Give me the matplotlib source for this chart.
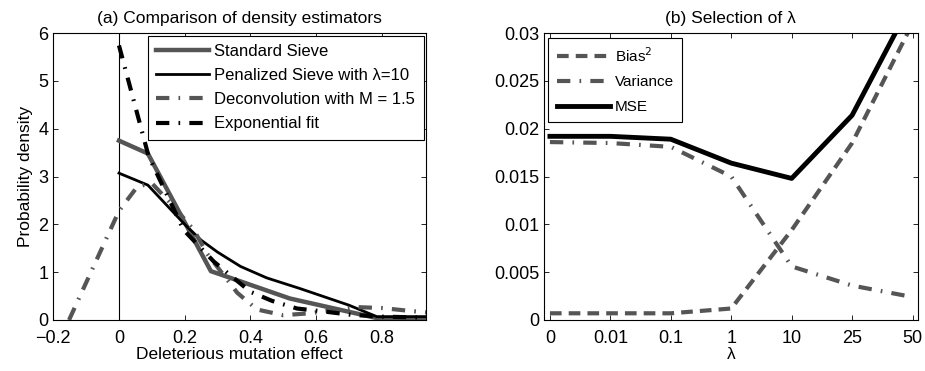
import numpy as np
import matplotlib.pyplot as plt

plt.rcParams['font.family'] = ['Liberation Sans', 'DejaVu Sans']
plt.rcParams['font.size'] = 12.5

GRAY = '#555555'

# (a) density estimators
sieve_x = [0, 0.088, 0.28, 0.31, 0.52, 0.785, 0.935]
sieve_y = [3.75, 3.48, 1.02, 0.95, 0.45, 0.04, 0.04]

pen_x = [0, 0.088, 0.2, 0.25, 0.3, 0.37, 0.45, 0.55, 0.7, 0.785, 0.935]
pen_y = [3.07, 2.82, 2.0, 1.67, 1.42, 1.12, 0.88, 0.66, 0.31, 0.07, 0.07]

dec_x = [-0.152, 0, 0.056, 0.1, 0.167, 0.228, 0.268, 0.36, 0.42, 0.5, 0.58, 0.72, 0.8, 0.886, 0.935]
dec_y = [0, 2.28, 2.79, 2.86, 2.37, 1.88, 1.39, 0.57, 0.22, 0.1, 0.14, 0.27, 0.25, 0.19, 0.16]

exp_x = [0, 0.09, 0.197, 0.289, 0.4, 0.466, 0.542, 0.633, 0.705, 0.8, 0.935]
exp_y = [5.74, 3.43, 1.88, 1.22, 0.59, 0.4, 0.24, 0.17, 0.11, 0.07, 0.05]

# (b) selection of lambda
lam_labels = ['0', '0.01', '0.1', '1', '10', '25', '50']
bias2 = [0.0007, 0.0007, 0.0007, 0.0012, 0.0094, 0.0185, 0.031]
variance = [0.0186, 0.0185, 0.0181, 0.0150, 0.0056, 0.0036, 0.0024]
mse = [0.0192, 0.0192, 0.0189, 0.0164, 0.0148, 0.0214, 0.0334]

dashdot = (0, (3.2, 2.2, 0.4, 2.2))
dashed = (0, (2.8, 1.7))

fig = plt.figure(figsize=(9.25, 3.71), dpi=100)
ax1 = fig.add_axes([0.0576, 0.1375, 0.403, 0.7735])
ax2 = fig.add_axes([0.588, 0.1375, 0.4044, 0.7735])

ax1.axvline(0, color='black', lw=0.8)
ax1.plot(sieve_x, sieve_y, color=GRAY, lw=3.2, label='Standard Sieve')
ax1.plot(pen_x, pen_y, color='black', lw=2, label='Penalized Sieve with λ=10')
ax1.plot(dec_x, dec_y, color=GRAY, lw=3, linestyle=dashdot, label='Deconvolution with M = 1.5')
ax1.plot(exp_x, exp_y, color='black', lw=3, linestyle=dashdot, label='Exponential fit')
ax1.set_xlim(-0.2, 0.935)
ax1.set_ylim(0, 6)
ax1.set_xticks([-0.2, 0, 0.2, 0.4, 0.6, 0.8])
ax1.set_xticklabels(['\u22120.2', '0', '0.2', '0.4', '0.6', '0.8'])
ax1.set_yticks(range(7))
ax1.set_xlabel('Deleterious mutation effect', labelpad=0)
ax1.set_ylabel('Probability density', labelpad=4)
ax1.set_title('(a) Comparison of density estimators', fontsize=12.5, pad=7)
leg1 = ax1.legend(loc='upper right', handlelength=3.2, fancybox=False, edgecolor='black',
                  framealpha=1, borderaxespad=0.15, labelspacing=0.55, handletextpad=0.3,
                  borderpad=0.5, fontsize=12)
leg1.get_frame().set_linewidth(0.8)

lam_pos = np.arange(1, len(lam_labels) + 1)
ax2.plot(lam_pos, bias2, color=GRAY, lw=3, linestyle=dashed, label='Bias$^2$')
ax2.plot(lam_pos, variance, color=GRAY, lw=3, linestyle=dashdot, label='Variance')
ax2.plot(lam_pos, mse, color='black', lw=3.5, label='MSE')
ax2.set_xlim(0.9, 7.09)
ax2.set_ylim(0, 0.03)
ax2.set_xticks(lam_pos)
ax2.set_xticklabels(lam_labels)
ax2.set_yticks([0, 0.005, 0.01, 0.015, 0.02, 0.025, 0.03])
ax2.set_yticklabels(['0', '0.005', '0.01', '0.015', '0.02', '0.025', '0.03'])
ax2.set_xlabel('λ', labelpad=0)
ax2.set_title('(b) Selection of λ', fontsize=12.5, pad=7)
leg2 = ax2.legend(loc='upper left', handlelength=3.5, fancybox=False, edgecolor='black',
                  framealpha=1, borderaxespad=0.3, labelspacing=0.7, handletextpad=0.3,
                  borderpad=0.55, fontsize=11)
leg2.get_frame().set_linewidth(0.8)

for ax in (ax1, ax2):
    ax.tick_params(direction='in', top=True, right=True, length=3.5, width=0.6, labelsize=13)
    ax.tick_params(axis='x', pad=7.5)
    for s in ax.spines.values():
        s.set_linewidth(0.8)

fig.savefig('out.png', dpi=100)
